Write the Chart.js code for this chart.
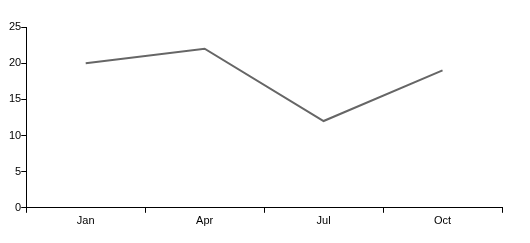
<!DOCTYPE html>
<html>
<head>
<meta charset="utf-8">
<script src="https://cdn.jsdelivr.net/npm/chart.js@4"></script>
<style>
  html, body { margin: 0; padding: 0; background: #fff; }
  #wrap { width: 530px; height: 243px; position: relative; }
</style>
</head>
<body>
<div id="wrap"><canvas id="chart"></canvas></div>
<script>
// data
const months = ['Jan', 'Apr', 'Jul', 'Oct'];
const values = [20, 22, 12, 19];
const yTicks = [0, 5, 10, 15, 20, 25];

const ctx = document.getElementById('chart');

new Chart(ctx, {
    type: 'line',
    data: {
        labels: months,
        datasets: [{
            data: values,
            borderColor: '#666666',
            borderWidth: 2,
            pointRadius: 0,
            fill: false,
            tension: 0
        }]
    },
    options: {
        responsive: true,
        maintainAspectRatio: false,
        animation: false,
        layout: { padding: { top: 27, right: 28, bottom: 13, left: 9 } },
        plugins: {
            legend: { display: false },
            tooltip: { enabled: false }
        },
        scales: {
            x: {
                offset: true,
                grid: {
                    offset: true,
                    drawOnChartArea: false,
                    drawTicks: true,
                    tickLength: 5,
                    tickColor: '#000'
                },
                border: { display: true, color: '#000', width: 1 },
                ticks: {
                    color: '#000',
                    padding: 2,
                    font: { family: 'Liberation Sans', size: 11 }
                }
            },
            y: {
                min: 0,
                max: 25,
                afterBuildTicks: (axis) => {
                    axis.ticks = yTicks.map(v => ({ value: v }));
                },
                grid: {
                    drawOnChartArea: false,
                    drawTicks: true,
                    tickLength: 5,
                    tickColor: '#000'
                },
                border: { display: true, color: '#000', width: 1 },
                ticks: {
                    color: '#000',
                    padding: 0,
                    font: { family: 'Liberation Sans', size: 11 }
                }
            }
        }
    }
});
</script>
</body>
</html>
